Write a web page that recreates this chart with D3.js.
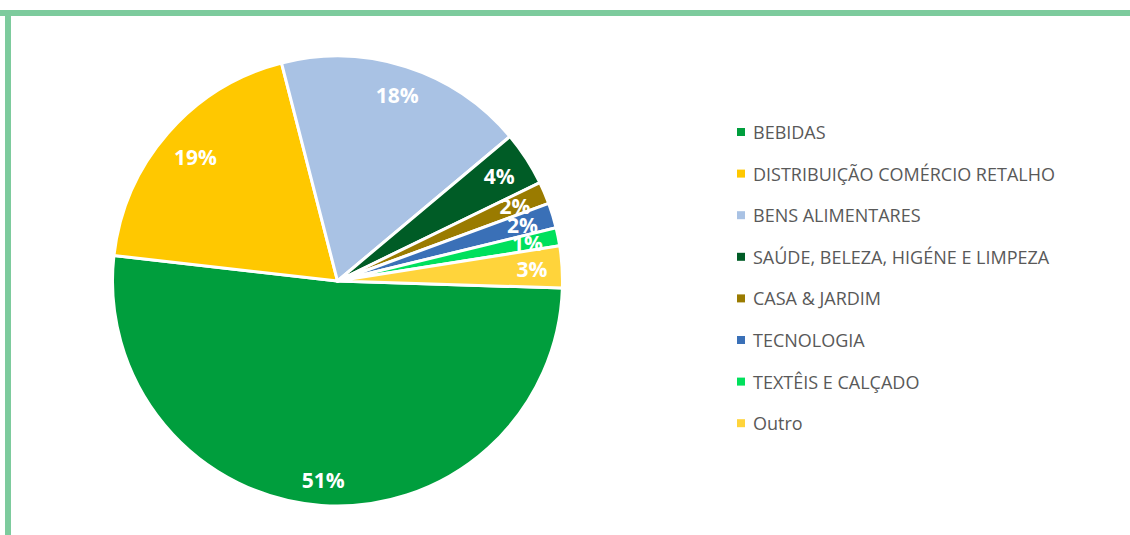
<!DOCTYPE html>
<html>
<head>
<meta charset="utf-8">
<script src="https://cdn.jsdelivr.net/npm/d3@7"></script>
<style>
	body { margin: 0; background: #fff; }
	svg { display: block; }
</style>
</head>
<body>
<div id="chart"></div>
<script>
// chart values (percent of total)
const categories = [
	'BEBIDAS',
	'DISTRIBUIÇÃO COMÉRCIO RETALHO',
	'BENS ALIMENTARES',
	'SAÚDE, BELEZA, HIGÉNE E LIMPEZA',
	'CASA & JARDIM',
	'TECNOLOGIA',
	'TEXTÊIS E CALÇADO',
	'Outro',
];
const values = [51.3, 19.2, 17.9, 3.9, 1.6, 1.8, 1.3, 3.0];
const colors = ['#009e3d', '#ffc800', '#a9c2e4', '#005c26', '#9a7b00', '#3a70b7', '#00e05c', '#ffd43b'];

const width = 1130,
	height = 535;

const svg = d3
	.select('#chart')
	.append('svg')
	.attr('width', width)
	.attr('height', height);

// green frame (top + left only are visible)
svg.append('rect')
	.attr('x', 0)
	.attr('y', 10)
	.attr('width', width)
	.attr('height', 6)
	.attr('fill', '#7dcb9d');
svg.append('rect')
	.attr('x', 5)
	.attr('y', 10)
	.attr('width', 6)
	.attr('height', height - 10)
	.attr('fill', '#7dcb9d');

const cx = 337.5,
	cy = 281,
	radius = 225;

const data = categories.map((c, i) => ({ name: c, value: values[i], color: colors[i] }));
const total = d3.sum(data, (d) => d.value);

// first slice starts a little below 3 o'clock
const start = (91.8 * Math.PI) / 180;
const pie = d3
	.pie()
	.sort(null)
	.startAngle(start)
	.endAngle(start + 2 * Math.PI)
	.value((d) => d.value);

const arcs = pie(data);
const arc = d3.arc().innerRadius(0).outerRadius(radius);

const g = svg.append('g').attr('transform', `translate(${cx},${cy})`);

g.selectAll('path')
	.data(arcs)
	.join('path')
	.attr('d', arc)
	.attr('fill', (d) => d.data.color)
	.attr('stroke', '#fff')
	.attr('stroke-width', 3)
	.attr('stroke-linejoin', 'round');

// labels "inside end"
const labels = g
	.selectAll('text.pct')
	.data(arcs)
	.join('text')
	.attr('class', 'pct')
	.attr('text-anchor', 'middle')
	.attr('dominant-baseline', 'central')
	.attr('fill', '#fff')
	.style('font-family', '"Open Sans", sans-serif')
	.style('font-weight', 700)
	.style('font-size', '21px')
	.text((d) => d3.format('.0%')(d.data.value / total));

labels.each(function (d) {
	const box = this.getBBox();
	const a = (d.startAngle + d.endAngle) / 2;
	const sx = Math.sin(a),
		sy = -Math.cos(a);
	const extent = (Math.abs(sx) * box.width) / 2 + (Math.abs(sy) * box.height * 0.7) / 2;
	const dist = radius - 14 - extent;
	d3.select(this).attr('x', sx * dist).attr('y', sy * dist);
});

// legend
const legend = svg
	.append('g')
	.attr('transform', 'translate(737,132)')
	.selectAll('g')
	.data(data)
	.join('g')
	.attr('transform', (d, i) => `translate(0,${i * 41.6})`);

legend
	.append('rect')
	.attr('x', 0)
	.attr('y', -4)
	.attr('width', 8)
	.attr('height', 8)
	.attr('fill', (d) => d.color);

legend
	.append('text')
	.attr('x', 16)
	.attr('y', 0)
	.attr('dominant-baseline', 'central')
	.attr('fill', '#595959')
	.style('font-family', '"Open Sans", sans-serif')
	.style('font-size', '18px')
	.text((d) => d.name);
</script>
</body>
</html>
